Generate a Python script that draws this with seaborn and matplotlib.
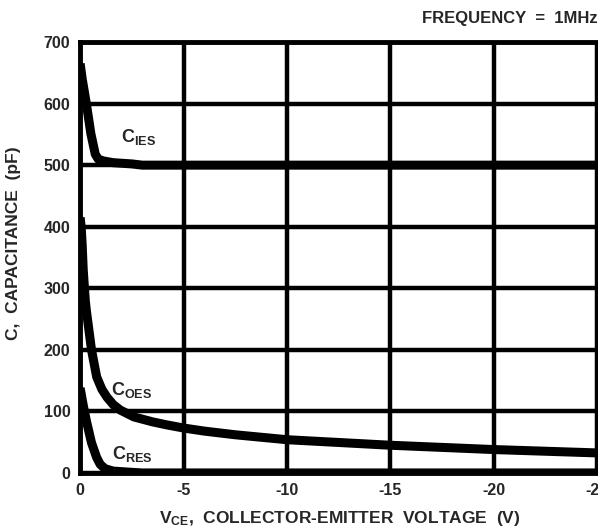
import matplotlib
matplotlib.use("Agg")
import matplotlib.pyplot as plt
import seaborn as sns

# values (V_CE in volts, capacitance in pF)
cies_v = [0, -0.1, -0.3, -0.52, -0.73, -0.87, -1.1, -1.6, -2.5, -3.0, -25.5]
cies_c = [665, 640, 600, 551, 518, 510, 507, 504, 502, 500, 500]

coes_v = [0, -0.05, -0.1, -0.15, -0.25, -0.3, -0.55, -0.8, -1.05, -1.3, -1.6, -1.95,
          -2.6, -3.5, -4.2, -5, -6, -7.5, -10, -15, -20, -25.5]
coes_c = [415, 400, 370, 330, 280, 264, 200, 156, 136, 123, 111, 102,
          91, 83, 78, 73, 68, 62, 54, 45, 38, 32]

cres_v = [0, -0.15, -0.3, -0.55, -0.8, -0.97, -1.2, -1.6, -2.5, -3.0, -25.5]
cres_c = [138, 110, 85, 49, 25, 14, 7, 3, 1, 0, 0]

x_ticks = [0, -5, -10, -15, -20, -25]
y_ticks = [0, 100, 200, 300, 400, 500, 600, 700]

sns.set_style("white")
plt.rcParams['font.family'] = ['Liberation Sans', 'DejaVu Sans']
plt.rcParams['font.weight'] = 'bold'
plt.rcParams['mathtext.fontset'] = 'custom'
plt.rcParams['mathtext.rm'] = 'Liberation Sans:bold'
plt.rcParams['mathtext.bf'] = 'Liberation Sans:bold'

fig = plt.figure(figsize=(5.98, 5.32), dpi=100)
ax = fig.add_axes([0.134, 0.111, 0.868, 0.81])

for v, c in [(cies_v, cies_c), (coes_v, coes_c), (cres_v, cres_c)]:
    sns.lineplot(x=v, y=c, ax=ax, color='black', lw=6.5, sort=False,
                 estimator=None, solid_capstyle='butt')

ax.set_xlim(0, -25.1)
ax.set_ylim(0, 700)
ax.set_xticks(x_ticks)
ax.set_yticks(y_ticks)
ax.set_xticklabels([str(t) for t in x_ticks], fontsize=11.5, fontweight='bold')
ax.set_yticklabels([str(t) for t in y_ticks], fontsize=11.5, fontweight='bold')
ax.tick_params(length=0, pad=7)
ax.grid(True, color='black', lw=3.2)
ax.set_axisbelow(True)
for s in ax.spines.values():
    s.set_color('black')
    s.set_linewidth(3.5)

ax.set_xlabel(r"$\mathbf{V_{CE}}$,  COLLECTOR-EMITTER  VOLTAGE  (V)",
              fontsize=12.5, fontweight='bold', labelpad=8)
ax.set_ylabel("C,  CAPACITANCE  (pF)", fontsize=12.5, fontweight='bold')
ax.yaxis.set_label_coords(-0.114, 0.534)

ax.text(-2.8, 545, r"$\mathbf{C_{IES}}$", fontsize=13, ha='center', va='center')
ax.text(-2.5, 135, r"$\mathbf{C_{OES}}$", fontsize=13, ha='center', va='center')
ax.text(-2.5, 30, r"$\mathbf{C_{RES}}$", fontsize=13, ha='center', va='center')

fig.text(0.999, 0.965, "FREQUENCY  =  1MHz", fontsize=12, fontweight='bold',
         ha='right', va='center')

fig.savefig("out.png", dpi=100)
